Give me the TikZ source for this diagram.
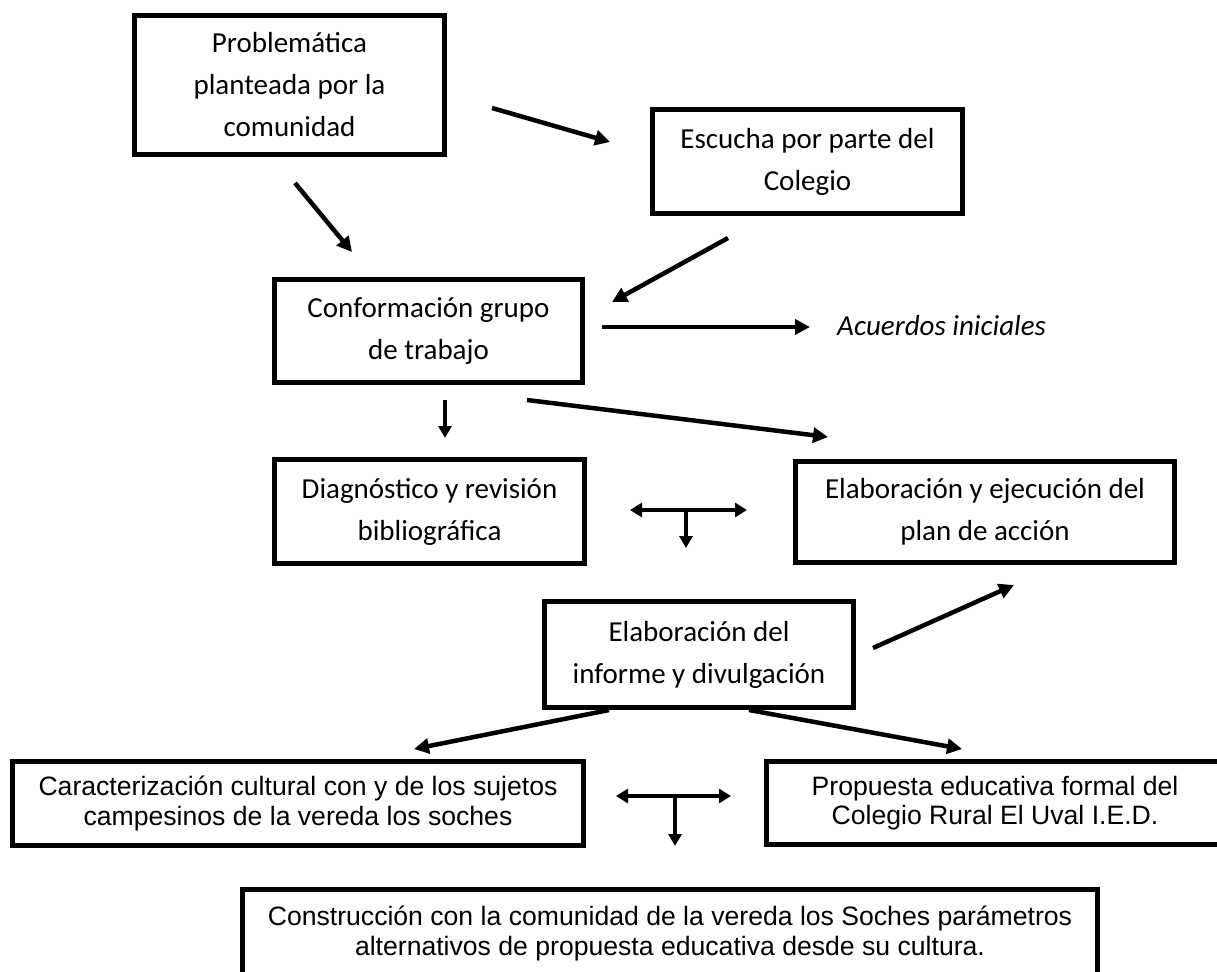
\documentclass[tikz,border=0pt]{standalone}
\usepackage{fontspec}
\setmainfont{Carlito}
\newfontfamily\arialfont{Liberation Sans}
\usetikzlibrary{arrows.meta}
\tikzset{
  cbox/.style={draw, line width=5pt, align=center, inner sep=0pt,
    font=\fontsize{29}{42}\selectfont},
  abox/.style={draw, line width=5pt, align=center, inner sep=0pt,
    font=\arialfont\fontsize{26.6}{29.5}\selectfont},
  arr/.style={line width=4.5pt, -{Triangle[length=15pt,width=15pt]}},
  sarr/.style={line width=4pt, -{Triangle[length=12pt,width=13pt]}},
  darr/.style={line width=4pt, {Triangle[length=12pt,width=14pt]}-{Triangle[length=12pt,width=14pt]}}
}
\begin{document}
\begin{tikzpicture}[x=1pt,y=-1pt]
\path[use as bounding box] (0,0) rectangle (1217,971);
\clip (0,0) rectangle (1217,971);
% boxes
\node[cbox, minimum width=310pt, minimum height=139pt] (b1) at (289.5,85) {Problemática\\planteada por la\\comunidad};
\node[cbox, minimum width=310pt, minimum height=104pt] (b2) at (807.5,161.5) {Escucha por parte del\\Colegio};
\node[cbox, minimum width=308pt, minimum height=103pt] (b3) at (428.5,331) {Conformación grupo\\de trabajo};
\node[cbox, minimum width=310pt, minimum height=104pt] (b4) at (429.5,511.5) {Diagnóstico y revisión\\bibliográfica};
\node[cbox, minimum width=379pt, minimum height=101pt] (b5) at (985,512) {Elaboración y ejecución del\\plan de acción};
\node[cbox, minimum width=309pt, minimum height=106pt] (b6) at (699,654.5) {Elaboración del\\informe y divulgación};
\node[abox, minimum width=571pt, minimum height=84pt] (b7) at (298,803.5) {Caracterización cultural con y de los sujetos\\campesinos de la vereda los soches};
\node[abox, minimum width=457pt, minimum height=83pt] (b8) at (995,803) {Propuesta educativa formal del\\Colegio Rural El Uval I.E.D.};
\node[abox, minimum width=855pt, minimum height=88pt] (b9) at (670,933.5) {Construcción con la comunidad de la vereda los Soches parámetros\\alternativos de propuesta educativa desde su cultura.};
\node[anchor=west, inner sep=0pt, font=\fontsize{29}{42}\selectfont\itshape] (acu) at (837,326) {Acuerdos iniciales};
% connector end points
\coordinate (a1s) at (492,108);  \coordinate (a1e) at (610,142);
\coordinate (a2s) at (295,183);  \coordinate (a2e) at (352,252);
\coordinate (a3s) at (728,238);  \coordinate (a3e) at (612,302);
\coordinate (a4s) at (602,327);  \coordinate (a4e) at (810,327);
\coordinate (a5s) at (445,400);  \coordinate (a5e) at (445,438);
\coordinate (a6s) at (527,400);  \coordinate (a6e) at (828,437);
\coordinate (t1l) at (630,510);  \coordinate (t1r) at (747,510);
\coordinate (t1m) at (686,510);  \coordinate (t1d) at (686,548);
\coordinate (a7s) at (873,648);  \coordinate (a7e) at (1014,585);
\coordinate (a8s) at (609,710);  \coordinate (a8e) at (414,749);
\coordinate (a9s) at (749,710);  \coordinate (a9e) at (962,749);
\coordinate (t2l) at (616,796);  \coordinate (t2r) at (731,796);
\coordinate (t2m) at (675,796);  \coordinate (t2d) at (675,846);
% connectors
\draw[arr] (a1s) -- (a1e);
\draw[arr] (a2s) -- (a2e);
\draw[arr] (a3s) -- (a3e);
\draw[arr] (a4s) -- (a4e);
\draw[sarr] (a5s) -- (a5e);
\draw[arr] (a6s) -- (a6e);
\draw[darr] (t1l) -- (t1r);
\draw[sarr] (t1m) -- (t1d);
\draw[arr] (a7s) -- (a7e);
\draw[arr] (a8s) -- (a8e);
\draw[arr] (a9s) -- (a9e);
\draw[darr] (t2l) -- (t2r);
\draw[sarr] (t2m) -- (t2d);
\end{tikzpicture}
\end{document}
